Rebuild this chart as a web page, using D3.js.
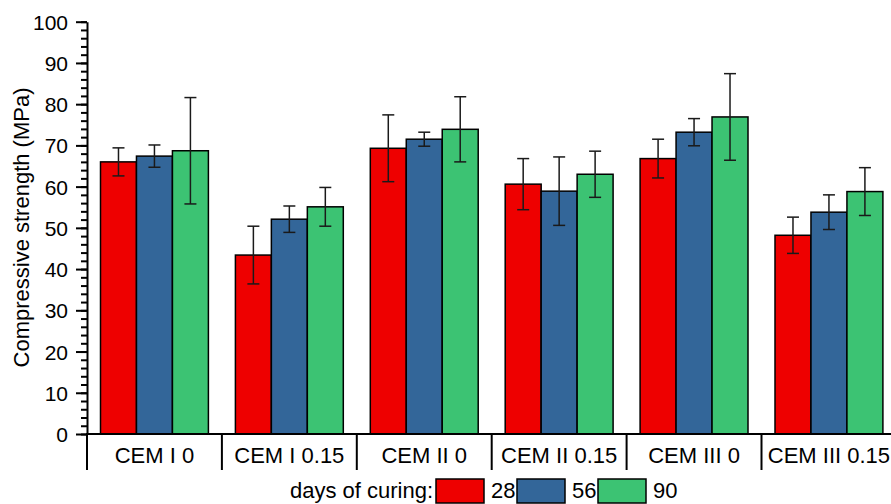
<!DOCTYPE html>
<html>
  <head>
    <title>Compressive strength</title>
    <script type="text/javascript" src="https://cdn.jsdelivr.net/npm/d3@7/dist/d3.min.js"></script>
    <style type="text/css">
      body { margin: 0; background: #fff; }
      svg { display: block; }
      text { font-family: "Liberation Sans", Arial, sans-serif; fill: #000; }
    </style>
  </head>
  <body>
  <script type="text/javascript">

  var categories = ['CEM I 0', 'CEM I 0.15', 'CEM II 0', 'CEM II 0.15', 'CEM III 0', 'CEM III 0.15']
  var series = ['28', '56', '90']
  var colors = ['#ee0000', '#336699', '#3cc373']

  // mean strength per category, one array per curing time
  var days28 = [66.0, 43.4, 69.3, 60.6, 66.8, 48.2]
  var days56 = [67.4, 52.1, 71.5, 58.9, 73.2, 53.8]
  var days90 = [68.7, 55.1, 73.9, 63.0, 76.9, 58.8]
  // standard deviations
  var err28 = [3.4, 7.0, 8.1, 6.2, 4.7, 4.4]
  var err56 = [2.7, 3.2, 1.7, 8.3, 3.3, 4.2]
  var err90 = [12.9, 4.7, 7.9, 5.6, 10.5, 5.8]

  var yTicks = [0, 10, 20, 30, 40, 50, 60, 70, 80, 90, 100]

  var W = 891, H = 504
  var padL = 87, padB = 434, padT = 21.7

  var svg = d3.select('body').append('svg')
      .attr('width', W)
      .attr('height', H)

  var x = d3.scaleBand().domain(categories).range([padL, padL + 6 * 134.9])
  var xs = d3.scaleBand().domain(series).range([13.5, x.bandwidth() - 13.5])
  var y = d3.scaleLinear().domain([0, 100]).range([padB, padT])

  var means = [days28, days56, days90]
  var errs = [err28, err56, err90]
  var data = []
  categories.forEach(function(c, i) {
    series.forEach(function(s, j) {
      data.push({ cat: c, s: s, j: j, v: means[j][i], e: errs[j][i] })
    })
  })

  // bars
  svg.append('g').selectAll('rect').data(data)
    .enter().append('rect')
      .attr('x', function(d) { return x(d.cat) + xs(d.s); })
      .attr('width', xs.bandwidth())
      .attr('y', function(d) { return y(d.v); })
      .attr('height', function(d) { return y(0) - y(d.v); })
      .attr('fill', function(d) { return colors[d.j]; })
      .attr('stroke', '#000')
      .attr('stroke-width', 1.5)

  // error bars
  var eb = svg.append('g').attr('stroke', '#1a1a1a').attr('stroke-width', 1.5)
  var cx = function(d) { return x(d.cat) + xs(d.s) + xs.bandwidth() / 2; }
  eb.selectAll('line.v').data(data).enter().append('line')
      .attr('x1', cx).attr('x2', cx)
      .attr('y1', function(d) { return y(d.v - d.e); })
      .attr('y2', function(d) { return y(d.v + d.e); })
  eb.selectAll('line.t').data(data).enter().append('line')
      .attr('x1', function(d) { return cx(d) - 6; }).attr('x2', function(d) { return cx(d) + 6; })
      .attr('y1', function(d) { return y(d.v + d.e); })
      .attr('y2', function(d) { return y(d.v + d.e); })
  eb.selectAll('line.b').data(data).enter().append('line')
      .attr('x1', function(d) { return cx(d) - 6; }).attr('x2', function(d) { return cx(d) + 6; })
      .attr('y1', function(d) { return y(d.v - d.e); })
      .attr('y2', function(d) { return y(d.v - d.e); })

  // y axis: minor then major
  var minor = svg.append('g').attr('transform', 'translate(' + padL + ',0)')
    .call(d3.axisLeft(y).tickValues(d3.range(0, 101, 2)).tickSize(6).tickFormat(''))
  minor.select('.domain').remove()
  minor.selectAll('line').attr('stroke-width', 2)

  var yAxis = svg.append('g').attr('transform', 'translate(' + padL + ',0)')
    .call(d3.axisLeft(y).tickValues(yTicks).tickSize(11).tickSizeOuter(0).tickPadding(8))
  yAxis.select('.domain').attr('stroke-width', 2)
  yAxis.selectAll('line').attr('stroke-width', 2)
  yAxis.selectAll('text').style('font-size', '21px').attr('dy', '0.36em')

  // x axis with category separators
  svg.append('line')
      .attr('x1', padL - 1).attr('x2', W)
      .attr('y1', padB).attr('y2', padB)
      .attr('stroke', '#000').attr('stroke-width', 2)
  svg.append('g').selectAll('line').data(categories)
    .enter().append('line')
      .attr('x1', function(d) { return x(d); })
      .attr('x2', function(d) { return x(d); })
      .attr('y1', padB).attr('y2', 470)
      .attr('stroke', '#000').attr('stroke-width', 2)
  svg.append('g').selectAll('text').data(categories)
    .enter().append('text')
      .attr('x', function(d) { return x(d) + x.bandwidth() / 2; })
      .attr('y', 463)
      .attr('text-anchor', 'middle')
      .style('font-size', '22px')
      .text(function(d) { return d; })

  // y title
  svg.append('text')
      .attr('transform', 'translate(29,' + ((88 + 367) / 2) + ') rotate(-90)')
      .attr('text-anchor', 'middle')
      .style('font-size', '22px')
      .text('Compressive strength (MPa)')

  // legend
  var lg = svg.append('g')
  lg.append('text').attr('x', 433).attr('y', 498).attr('text-anchor', 'end')
      .style('font-size', '22px').text('days of curing:')
  var lx = [436, 517, 598]
  series.forEach(function(s, j) {
    lg.append('rect').attr('x', lx[j]).attr('y', 479).attr('width', 48).attr('height', 24)
        .attr('fill', colors[j]).attr('stroke', '#000').attr('stroke-width', 1.5)
    lg.append('text').attr('x', lx[j] + 55).attr('y', 498)
        .style('font-size', '22px').text(s)
  })

  </script>
  </body>
</html>
